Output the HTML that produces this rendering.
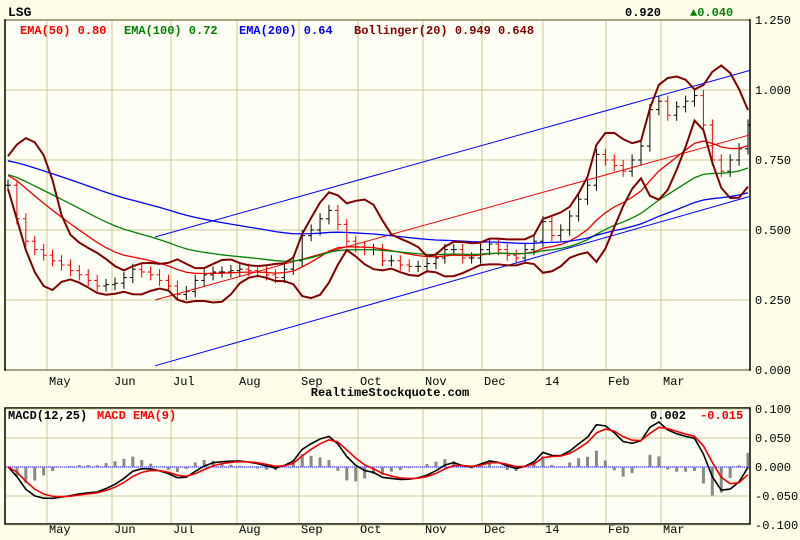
<!DOCTYPE html>
<html><head><meta charset="utf-8"><style>
body{margin:0;background:#fdfde8;}
svg{display:block;font-family:"Liberation Mono",monospace;font-weight:bold;}
</style></head><body>
<svg id="c" width="800" height="540">
<rect width="800" height="540" fill="#fdfde8"/>
<rect x="5" y="20" width="745" height="350" fill="#fffff6" stroke="#000" stroke-width="1.5"/>
<rect x="5" y="408" width="745" height="116" fill="#fffff6" stroke="#000" stroke-width="1.5"/>
<g id="grid"></g><g id="marks"></g>
<text x="8" y="16" font-size="13">LSG</text>
<text x="625" y="16" font-size="12">0.920</text>
<text x="690" y="16" font-size="12" fill="#008000">▲0.040</text>
<text x="20" y="34" font-size="12" fill="#f00">EMA(50) 0.80</text>
<text x="124" y="34" font-size="12" fill="#008000">EMA(100) 0.72</text>
<text x="239" y="34" font-size="12" fill="#00f">EMA(200) 0.64</text>
<text x="354" y="34" font-size="12" fill="#800000">Bollinger(20) 0.949 0.648</text>
<text x="390" y="396" font-size="12" text-anchor="middle">RealtimeStockquote.com</text>
<text x="8" y="419" font-size="12">MACD(12,25)</text>
<text x="97" y="419" font-size="12" fill="#f00">MACD EMA(9)</text>
<text x="650" y="419" font-size="12">0.002</text>
<text x="700" y="419" font-size="12" fill="#f00">-0.015</text>
</svg>
<script>
const months=["May","Jun","Jul","Aug","Sep","Oct","Nov","Dec","14","Feb","Mar"];
const monthX=[47,112,171,237,299,358,423,482,543,606,661];
const priceTicks=[0,0.25,0.5,0.75,1.0,1.25];
const macdTicks=[-0.1,-0.05,0,0.05,0.1];
const preCloses=[0.74,0.72,0.71,0.70,0.70];
const closes=[0.66,0.54,0.46,0.43,0.41,0.39,0.375,0.355,0.34,0.32,0.30,0.305,0.31,0.33,0.36,0.35,0.34,0.32,0.30,0.27,0.28,0.32,0.34,0.35,0.35,0.355,0.36,0.355,0.35,0.34,0.33,0.36,0.39,0.48,0.50,0.54,0.57,0.52,0.46,0.44,0.43,0.43,0.39,0.39,0.375,0.37,0.37,0.38,0.40,0.43,0.43,0.40,0.40,0.43,0.45,0.43,0.41,0.40,0.43,0.46,0.53,0.48,0.50,0.55,0.61,0.66,0.77,0.75,0.73,0.71,0.75,0.80,0.93,0.96,0.91,0.94,0.96,0.98,0.875,0.75,0.71,0.75,0.79,0.875];
const emaSeeds=[0.70,0.70,0.75];
const emaDays=[50,100,200];
const macdSeeds=[0.60,0.615];
const channel=[[155,0.475,750,1.07],[155,0.25,750,0.84],[155,0.015,750,0.62]];
const NS="http://www.w3.org/2000/svg";
const X0=8,X1=748,P0=370,PK=280,M0=467,MK=580;
const xs=i=>X0+i*(X1-X0)/(closes.length-1);
const py=v=>P0-v*PK, my=v=>M0-v*MK;
const g=document.getElementById('grid'),m=document.getElementById('marks');
function mk(tag,at,par){const e=document.createElementNS(NS,tag);for(const k in at)e.setAttribute(k,at[k]);par.appendChild(e);return e;}
const GC="#c8c890";
monthX.forEach((x,i)=>{
 let l=mk('line',{x1:x,x2:x,y1:21,y2:369,stroke:GC},g);
 
 
 let l2=mk('line',{x1:x,x2:x,y1:409,y2:523,stroke:GC},g);
 
 
 [385,533].forEach(y=>{let t=mk('text',{x:x+2,y:y,'font-size':12,'font-weight':'normal'},g);t.textContent=months[i];
 
 });
});
priceTicks.forEach(v=>{
 let l=mk('line',{x1:6,x2:749,y1:py(v),y2:py(v),stroke:GC},g);
 
 
 let t=mk('text',{x:755,y:py(v)+4,'font-size':12,'font-weight':'normal'},g);t.textContent=v.toFixed(3);
 
 
});
macdTicks.forEach(v=>{
 let l=mk('line',{x1:6,x2:749,y1:my(v),y2:my(v),stroke:GC},g);
 
 
 let t=mk('text',{x:755,y:my(v)+4,'font-size':12,'font-weight':'normal'},g);t.textContent=v.toFixed(3);
 
 
});
let z=mk('line',{x1:6,x2:749,y1:M0,y2:M0,stroke:"#00f","stroke-dasharray":"1,1"},g);


const DPP=3.3;
function ema(arr,days,seed){const a=2/(days/DPP+1);let e=seed,out=[];arr.forEach(v=>{e=e+a*(v-e);out.push(e);});return out;}
function poly(vals,yf,col,w,name){let p=mk('polyline',{points:vals.map((v,i)=>xs(i)+','+yf(v)).join(' '),fill:'none',stroke:col,'stroke-width':w},m);
 
 }
closes.forEach((c,i)=>{
 const o=i?closes[i-1]:c, h=Math.max(o,c)+0.02, lo=Math.min(o,c)-0.02, x=xs(i);
 const col=c>=o?"#000":"#e00";
 let b=mk('g',{stroke:col,'stroke-width':1},m);
 
 
 mk('line',{x1:x,x2:x,y1:py(h),y2:py(lo)},b);
 mk('line',{x1:x-3,x2:x,y1:py(o),y2:py(o)},b);
 mk('line',{x1:x,x2:x+3,y1:py(c),y2:py(c)},b);
});
channel.forEach((c,i)=>{let l=mk('line',{x1:c[0],y1:py(c[1]),x2:c[2],y2:py(c[3]),stroke:i==1?"#e00":"#00f"},m);
 
 });
const cols=["#e00","#008000","#00f"];
emaDays.forEach((d,k)=>poly(ema(closes,d,emaSeeds[k]),py,cols[k],1.3,'ema-'+d+'-line'));
const W=Math.round(20/DPP),up=[],dn=[];
const all=preCloses.concat(closes);
closes.forEach((c,i)=>{const j=i+preCloses.length;const s=all.slice(Math.max(0,j-W+1),j+1);const mu=s.reduce((a,b)=>a+b,0)/s.length;const sd=Math.sqrt(s.reduce((a,b)=>a+(b-mu)*(b-mu),0)/s.length);up.push(mu+2*sd+0.01);dn.push(mu-2*sd-0.01);});
poly(up,py,"#800000",2,'bollinger-upper');poly(dn,py,"#800000",2,'bollinger-lower');
const e12=ema(closes,12,macdSeeds[0]),e25=ema(closes,25,macdSeeds[1]);
const macd=e12.map((v,i)=>v-e25[i]);const sig=ema(macd,9,macd[0]);
macd.forEach((v,i)=>{const h=(v-sig[i])*2;let r=mk('rect',{x:xs(i)-1.5,width:3,y:Math.min(M0,my(h)),height:Math.abs(my(h)-M0),fill:"#888"},m);
 
 });
poly(macd,my,"#000",1.6,'macd-line');poly(sig,my,"#e00",1.6,'macd-signal-line');
</script>
</body></html>
